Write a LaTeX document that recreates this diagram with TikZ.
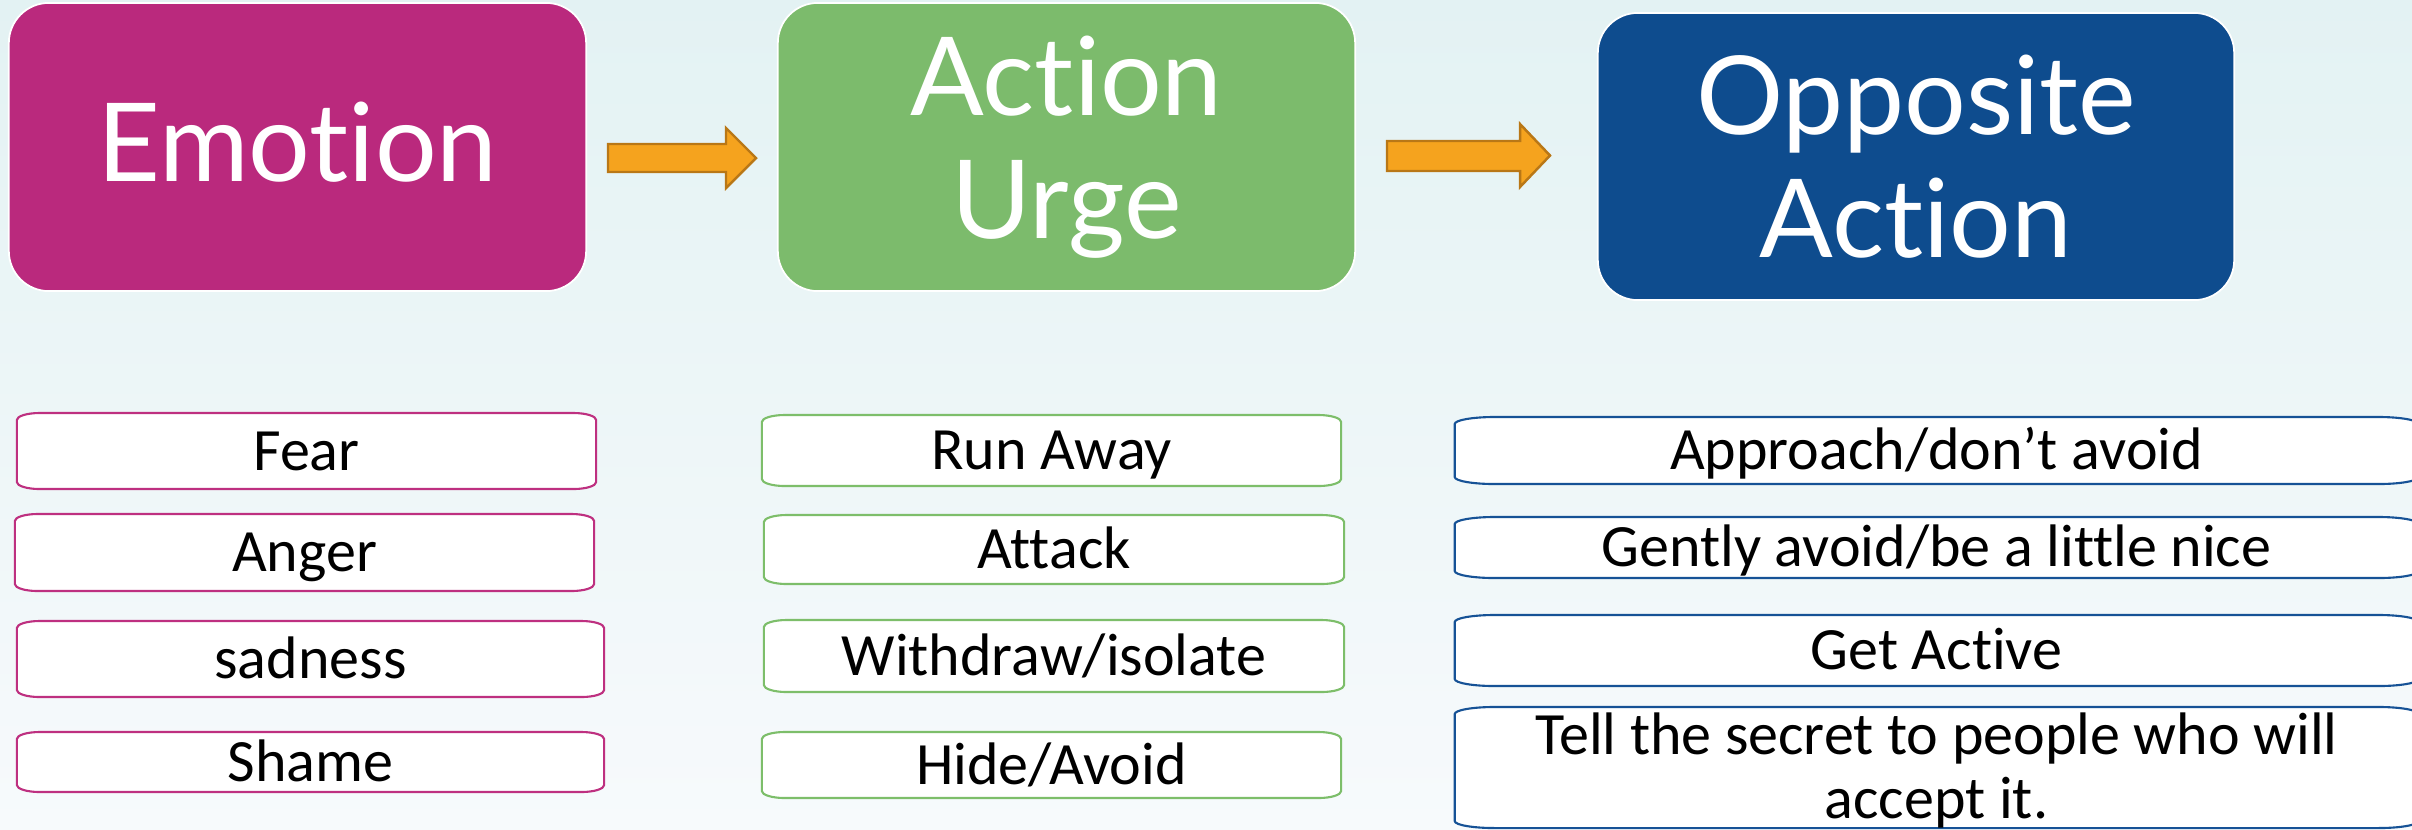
\documentclass[tikz,border=0pt]{standalone}
\usepackage{fontspec}
\newfontfamily\headfont[Ligatures=NoCommon]{Lato}
\newfontfamily\itemfont[Ligatures=NoCommon]{Carlito}
\definecolor{bgtop}{RGB}{227,242,243}
\definecolor{bgbot}{RGB}{247,250,252}
\definecolor{emofill}{RGB}{186,41,125}
\definecolor{urgefill}{RGB}{124,187,108}
\definecolor{oppfill}{RGB}{14,76,142}
\definecolor{emoline}{RGB}{190,48,128}
\definecolor{urgeline}{RGB}{125,190,106}
\definecolor{oppline}{RGB}{22,82,150}
\definecolor{arrfill}{RGB}{245,163,30}
\definecolor{arrline}{RGB}{185,119,22}
\pgfdeclarelayer{back}
\pgfdeclarelayer{boxes}
\pgfsetlayers{back,boxes,main}
\tikzset{
  bigbox/.style={rounded corners=0.4cm, draw=white, line width=0.5pt, text=white,
    font=\headfont\fontsize{31}{35}\selectfont, align=center, inner sep=0pt, outer sep=0pt},
  itemnode/.style={font=\itemfont\fontsize{17.07}{18.2}\selectfont, text=black,
    align=center, inner sep=0pt, outer sep=0pt},
  oneline/.style={text height=0.386cm, text depth=0pt},
  twoline/.style={text height=1.026cm, text depth=0pt},
  blockarrow/.style={fill=arrfill, draw=arrline, line width=0.7pt, line join=miter}
}
% #1 name, #2 cx, #3 cy, #4 w(cm), #5 h(cm), #6 colour, #7 rx(cm), #8 text, #9 extra style
\newcommand\itembox[9]{%
  \node[itemnode, #9, minimum width=#4cm, minimum height=#5cm] (#1) at (#2,#3) {#8};
  \begin{pgfonlayer}{boxes}
    \draw[draw=#6, fill=white, line width=0.6pt]
      ([xshift=#7cm]#1.north west) -- ([xshift=-#7cm]#1.north east)
      arc[start angle=90, end angle=0, x radius=#7cm, y radius=0.07cm]
      -- ([yshift=0.07cm]#1.south east)
      arc[start angle=0, end angle=-90, x radius=#7cm, y radius=0.07cm]
      -- ([xshift=#7cm]#1.south west)
      arc[start angle=270, end angle=180, x radius=#7cm, y radius=0.07cm]
      -- ([yshift=-0.07cm]#1.north west)
      arc[start angle=180, end angle=90, x radius=#7cm, y radius=0.07cm]
      -- cycle;
  \end{pgfonlayer}%
}
\begin{document}
\begin{tikzpicture}[x=0.01cm, y=-0.01cm]
\useasboundingbox (0,0) rectangle (2412,829);
\begin{pgfonlayer}{back}
  \shade[top color=bgtop, bottom color=bgbot] (0,0) rectangle (2412,829);
\end{pgfonlayer}

% header boxes
\node[bigbox, fill=emofill, minimum width=5.77cm, minimum height=2.88cm,
      text height=0.78cm, text depth=0.09cm] (emotion) at (297.5,147) {Emotion};
\node[bigbox, fill=urgefill, minimum width=5.77cm, minimum height=2.88cm] (urge) at (1066.5,147) {Action\\Urge};
\node[bigbox, fill=oppfill, minimum width=6.36cm, minimum height=2.87cm] (opposite) at (1916,156.5) {Opposite\\Action};

% block arrows
\coordinate (a1) at (608,158);
\coordinate (a2) at (1387,156);
\draw[blockarrow] (a1) ++(0,-14) -- ++(118,0) -- ++(0,-16) -- ++(30,30) -- ++(-30,30) -- ++(0,-16) -- ++(-118,0) -- cycle;
\draw[blockarrow] (a2) ++(0,-15) -- ++(133,0) -- ++(0,-17) -- ++(30,31.5) -- ++(-30,31.5) -- ++(0,-16) -- ++(-133,0) -- cycle;

% column 1
\itembox{fear}{306.5}{451}{5.79}{0.76}{emoline}{0.23}{Fear}{oneline}
\itembox{anger}{304.5}{552.5}{5.79}{0.77}{emoline}{0.23}{Anger}{oneline}
\itembox{sadness}{310.5}{659}{5.87}{0.76}{emoline}{0.23}{sadness}{oneline}
\itembox{shame}{310.5}{762}{5.87}{0.60}{emoline}{0.23}{Shame}{oneline}

% column 2
\itembox{runaway}{1051.5}{450.5}{5.79}{0.71}{urgeline}{0.23}{Run Away}{oneline}
\itembox{attack}{1054}{549.5}{5.80}{0.69}{urgeline}{0.23}{Attack}{oneline}
\itembox{withdraw}{1054}{656}{5.80}{0.72}{urgeline}{0.23}{Withdraw/isolate}{oneline}
\itembox{hide}{1051.5}{765}{5.79}{0.66}{urgeline}{0.23}{Hide/Avoid}{oneline}

% column 3
\itembox{approach}{1936.5}{450.5}{9.63}{0.67}{oppline}{0.40}{Approach/don’t avoid}{oneline}
\itembox{gently}{1936.5}{547.5}{9.63}{0.61}{oppline}{0.40}{Gently avoid/be a little nice}{oneline}
\itembox{active}{1936.5}{650.5}{9.63}{0.71}{oppline}{0.40}{Get Active}{oneline}
\itembox{tell}{1936.5}{767.5}{9.63}{1.21}{oppline}{0.40}{Tell the secret to people who will\\accept it.}{twoline}
\end{tikzpicture}
\end{document}
